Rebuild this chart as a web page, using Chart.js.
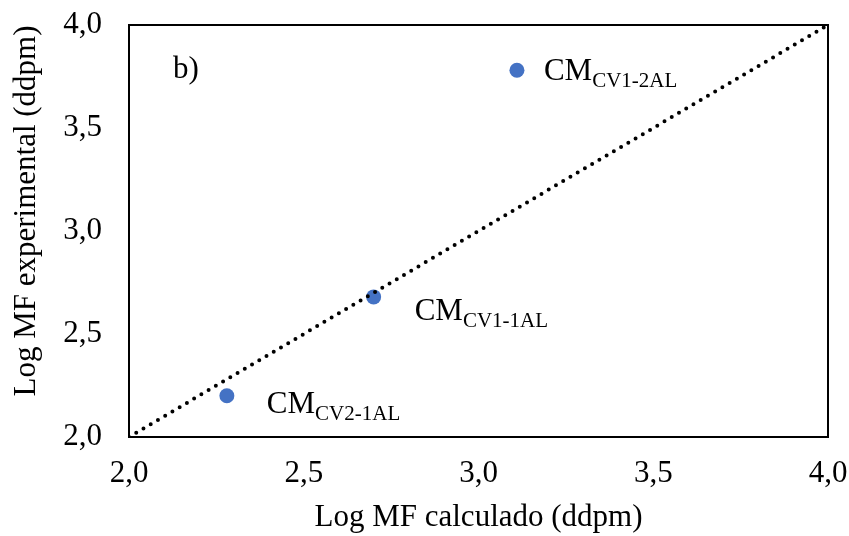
<!DOCTYPE html>
<html>
<head>
<meta charset="UTF-8"/>
<title>Log MF calculado vs experimental</title>
<script src="https://cdn.jsdelivr.net/npm/chart.js@4"></script>
<style>
 body { margin: 0; background: #fff; }
 #wrap { width: 849px; height: 536px; }
</style>
</head>
<body>
<div id="wrap"><canvas id="chart-mf"></canvas></div>
<script>
 // valores por muestra (log de ddpm)
 var mfCalculado = [2.28, 2.70, 3.11];
 var mfExperimental = [2.20, 2.68, 3.78];
 var muestras = ['CV2-1AL', 'CV1-1AL', 'CV1-2AL'];

 // recta 1:1
 var lineaX = [2.0, 4.0];
 var lineaY = [2.0, 4.0];

 var ticksX = ['2,0', '2,5', '3,0', '3,5', '4,0'];
 var ticksY = ['2,0', '2,5', '3,0', '3,5', '4,0'];

 var fuente = 'Liberation Serif, Times New Roman, serif';

 // desplazamiento de cada etiqueta respecto a su punto (px)
 var offsetEtiqueta = [[40, 17], [41, 23], [27, 10]];

 function puntos(xs, ys) {
     return xs.map((x, i) => ({x: x, y: ys[i]}));
 }

 var extras = {
     id: 'extras',
     afterDraw: function(chart) {
         var ctx = chart.ctx;
         var area = chart.chartArea;
         ctx.save();

         // marco del área de trazado
         ctx.strokeStyle = '#000';
         ctx.lineWidth = 2;
         ctx.strokeRect(area.left, area.top, area.right - area.left, area.bottom - area.top);

         ctx.fillStyle = '#000';
         ctx.textBaseline = 'alphabetic';
         ctx.textAlign = 'left';

         // b)
         ctx.font = '31px ' + fuente;
         ctx.fillText('b)', area.left + 44, area.top + 53);

         // etiquetas CM con subíndice
         var meta = chart.getDatasetMeta(1);
         meta.data.forEach(function(p, i) {
             var x = p.x + offsetEtiqueta[i][0];
             var y = p.y + offsetEtiqueta[i][1];
             ctx.font = '31px ' + fuente;
             ctx.fillText('CM', x, y);
             var w = ctx.measureText('CM').width;
             ctx.font = '21px ' + fuente;
             ctx.fillText(muestras[i], x + w, y + 7);
         });

         // título del eje Y
         ctx.translate(27, 211);
         ctx.rotate(-Math.PI / 2);
         ctx.textAlign = 'center';
         ctx.textBaseline = 'middle';
         ctx.font = '31px ' + fuente;
         ctx.fillText('Log MF experimental (ddpm)', 0, 0);
         ctx.restore();
     }
 };

 new Chart('chart-mf', {
     type: 'scatter',
     data: {
         datasets: [{
             label: '1:1',
             data: puntos(lineaX, lineaY),
             showLine: true,
             borderColor: '#000',
             borderWidth: 4,
             borderDash: [0, 8.4],
             borderCapStyle: 'round',
             pointRadius: 0,
             order: 0
         }, {
             label: 'Log MF',
             data: puntos(mfCalculado, mfExperimental),
             backgroundColor: '#4472C4',
             borderWidth: 0,
             pointRadius: 7.5,
             order: 1
         }]
     },
     options: {
         responsive: true,
         maintainAspectRatio: false,
         animation: false,
         events: [],
         layout: { padding: { left: 0, right: 21, top: 25, bottom: 0 } },
         plugins: {
             legend: { display: false },
             tooltip: { enabled: false }
         },
         scales: {
             x: {
                 type: 'linear',
                 min: 2, max: 4,
                 grid: { display: false, drawTicks: false },
                 border: { display: false },
                 ticks: {
                     stepSize: 0.5,
                     padding: 18,
                     color: '#000',
                     font: { family: fuente, size: 31 },
                     callback: (v, i) => ticksX[i]
                 },
                 title: {
                     display: true,
                     text: 'Log MF calculado (ddpm)',
                     color: '#000',
                     padding: { top: 0, bottom: 0 },
                     font: { family: fuente, size: 31 }
                 },
                 afterFit: s => {
                     s.height = 99;
                     s.paddingLeft = 0;
                     s.paddingRight = 0;
                 }
             },
             y: {
                 type: 'linear',
                 min: 2, max: 4,
                 grid: { display: false, drawTicks: false },
                 border: { display: false },
                 ticks: {
                     stepSize: 0.5,
                     padding: 27,
                     color: '#000',
                     font: { family: fuente, size: 31 },
                     callback: (v, i) => ticksY[i]
                 },
                 afterFit: s => {
                     s.width = 129;
                     s.paddingTop = 0;
                     s.paddingBottom = 0;
                 }
             }
         }
     },
     plugins: [extras]
 });
</script>
</body>
</html>
